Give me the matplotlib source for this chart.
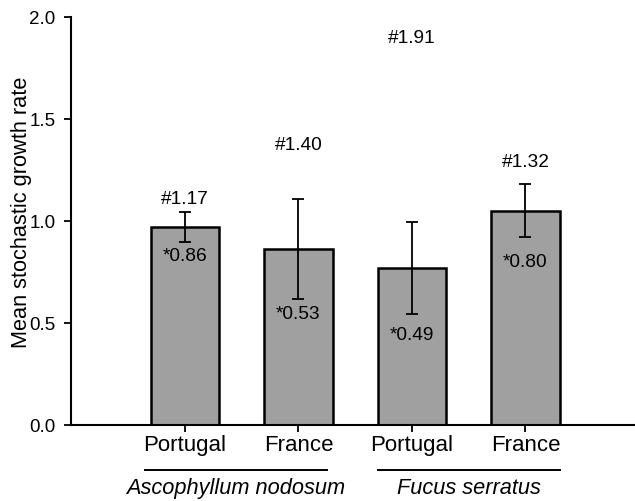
import numpy as np
import matplotlib
matplotlib.use("Agg")
import matplotlib.pyplot as plt
from matplotlib.transforms import blended_transform_factory

plt.rcParams['font.family'] = ['Liberation Sans', 'DejaVu Sans']

sites = ['Portugal', 'France', 'Portugal', 'France']
species = ['Ascophyllum nodosum', 'Fucus serratus']
means = [0.97, 0.865, 0.77, 1.05]
errors = [0.075, 0.245, 0.225, 0.13]

upper_labels = ['#1.17', '#1.40', '#1.91', '#1.32']
upper_y = [1.107, 1.368, 1.897, 1.288]
lower_labels = ['*0.86', '*0.53', '*0.49', '*0.80']
lower_y = [0.825, 0.544, 0.441, 0.797]

fig = plt.figure(figsize=(6.35, 5.01), dpi=100)
ax = fig.add_axes([71 / 635, 76 / 501, 1 - 71 / 635, 408 / 501])

x = np.arange(len(means))
ax.bar(x, means, width=0.6, color='#a0a0a0', edgecolor='black', linewidth=1.8,
       zorder=2)
ax.errorbar(x, means, yerr=errors, fmt='none', ecolor='black', elinewidth=1.3,
            capsize=4.5, capthick=1.3, zorder=3)

for xi, lab, yy in zip(x, upper_labels, upper_y):
    ax.text(xi, yy, lab, ha='center', va='center', fontsize=13.8)
for xi, lab, yy in zip(x, lower_labels, lower_y):
    ax.text(xi, yy, lab, ha='center', va='center', fontsize=13.8)

ax.set_xlim(-1.004, 3.965)
ax.set_ylim(0, 2.0)
ax.set_yticks([0.0, 0.5, 1.0, 1.5, 2.0])
ax.set_yticklabels(['0.0', '0.5', '1.0', '1.5', '2.0'])
ax.set_xticks(x)
ax.set_xticklabels(sites, fontsize=16)
ax.tick_params(axis='y', labelsize=13.5, direction='out', length=5, width=1.3,
               pad=6)
ax.tick_params(axis='x', direction='out', length=5, width=1.3, pad=2)
ax.set_ylabel('Mean stochastic growth rate', fontsize=15.7)
ax.yaxis.set_label_coords(-0.07, 0.522)

for side in ['top', 'right']:
    ax.spines[side].set_visible(False)
for side in ['left', 'bottom']:
    ax.spines[side].set_linewidth(1.5)

trans = blended_transform_factory(ax.transData, ax.transAxes)
group_centers = [0.45, 2.5]
for gc, name in zip(group_centers, species):
    ax.plot([gc - 0.8, gc + 0.8], [-0.110, -0.110], color='black', lw=1.4,
            transform=trans, clip_on=False)
    ax.text(gc, -0.155, name, ha='center', va='center', fontsize=15.7,
            style='italic', transform=trans)

fig.savefig('out.png', dpi=100)
